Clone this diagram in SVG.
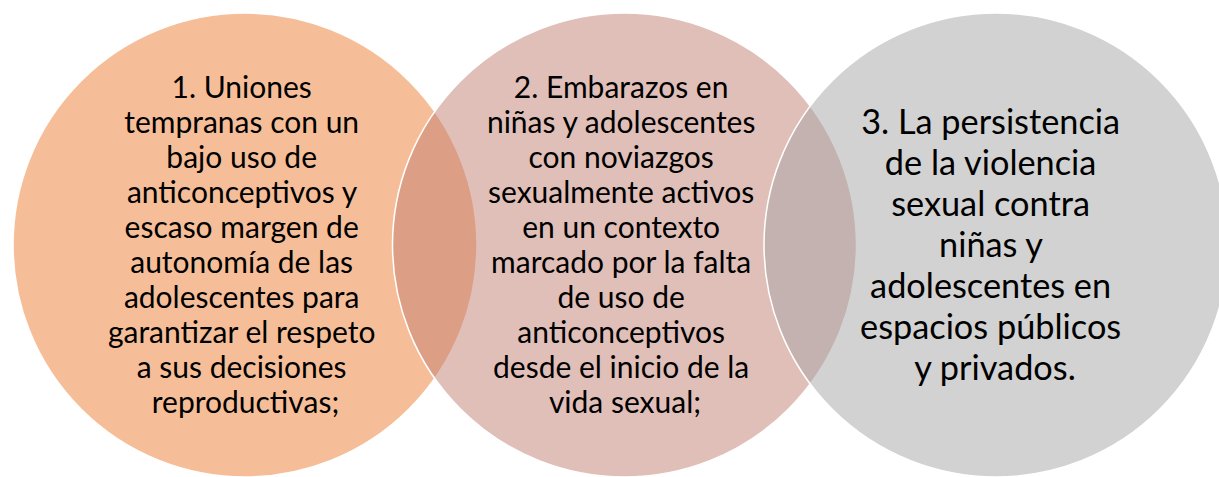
<svg xmlns="http://www.w3.org/2000/svg" width="1219" height="477" viewBox="0 0 1219 477">
<style>
.c{stroke:#FFFFFF;stroke-width:1.5;fill-opacity:0.5}
.t{font-family:Lato,"Open Sans","Liberation Sans",sans-serif;fill:#000000;text-anchor:middle}
.s{font-size:30px}
.l{font-size:34.3px}
</style>
<rect x="0" y="0" width="1219" height="477" fill="#FFFFFF"/>
<g id="node1">
<circle class="c" cx="245" cy="245" r="232" fill="#ED7D31"/>
<text class="t s">
<tspan x="245.5" y="98">1. Uniones</tspan>
<tspan x="245.5" y="133">tempranas con un</tspan>
<tspan x="245.5" y="168">bajo uso de</tspan>
<tspan x="245.5" y="203">anticonceptivos y</tspan>
<tspan x="245.5" y="238">escaso margen de</tspan>
<tspan x="245.5" y="273">autonomía de las</tspan>
<tspan x="245.5" y="308">adolescentes para</tspan>
<tspan x="245.5" y="343">garantizar el respeto</tspan>
<tspan x="245.5" y="378">a sus decisiones</tspan>
<tspan x="245.5" y="413">reproductivas;</tspan>
</text>
</g>
<g id="node2">
<circle class="c" cx="624.5" cy="245" r="232" fill="#C17F71"/>
<text class="t s">
<tspan x="625" y="98">2. Embarazos en</tspan>
<tspan x="625" y="133">niñas y adolescentes</tspan>
<tspan x="625" y="168">con noviazgos</tspan>
<tspan x="625" y="203">sexualmente activos</tspan>
<tspan x="625" y="238">en un contexto</tspan>
<tspan x="625" y="273">marcado por la falta</tspan>
<tspan x="625" y="308">de uso de</tspan>
<tspan x="625" y="343">anticonceptivos</tspan>
<tspan x="625" y="378">desde el inicio de la</tspan>
<tspan x="625" y="413">vida sexual;</tspan>
</text>
</g>
<g id="node3">
<circle class="c" cx="996" cy="245" r="232" fill="#A5A5A5"/>
<text class="t l">
<tspan x="995" y="134">3. La persistencia</tspan>
<tspan x="995" y="175">de la violencia</tspan>
<tspan x="995" y="216">sexual contra</tspan>
<tspan x="995" y="257">niñas y</tspan>
<tspan x="995" y="298">adolescentes en</tspan>
<tspan x="995" y="339">espacios públicos</tspan>
<tspan x="995" y="380">y privados.</tspan>
</text>
</g>
<g id="connectors"/>
</svg>
